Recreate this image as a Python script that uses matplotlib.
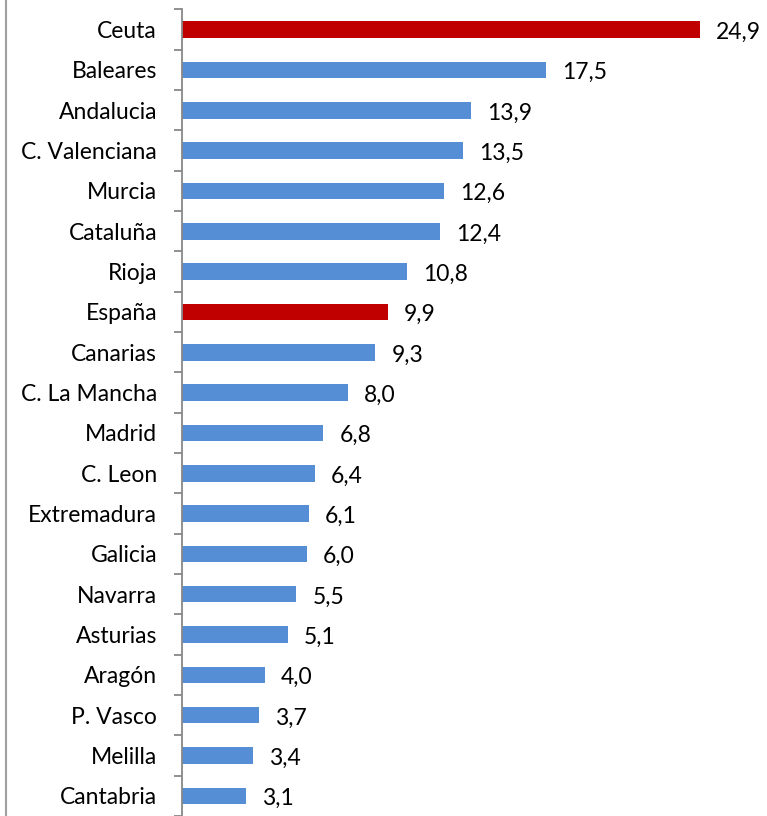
import matplotlib
matplotlib.use('Agg')
import matplotlib.pyplot as plt
from matplotlib.lines import Line2D

# Data
regiones = ['Ceuta', 'Baleares', 'Andalucia', 'C. Valenciana', 'Murcia', 'Cataluña',
            'Rioja', 'España', 'Canarias', 'C. La Mancha', 'Madrid', 'C. Leon',
            'Extremadura', 'Galicia', 'Navarra', 'Asturias', 'Aragón', 'P. Vasco',
            'Melilla', 'Cantabria']
valores = [24.9, 17.5, 13.9, 13.5, 12.6, 12.4, 10.8, 9.9, 9.3, 8.0, 6.8, 6.4,
           6.1, 6.0, 5.5, 5.1, 4.0, 3.7, 3.4, 3.1]
destacados = ['Ceuta', 'España']

azul = '#558ED5'
rojo = '#C00000'

plt.rcParams['font.family'] = ['Lato', 'DejaVu Sans']

W, H = 767, 816
fig = plt.figure(figsize=(W / 100, H / 100), dpi=100)
ax = fig.add_axes([182 / W, 0, 1 - 182 / W, 1 - 9.5 / H])

colores = [rojo if r in destacados else azul for r in regiones]
pos = list(range(len(regiones)))
ax.barh(pos, valores, height=0.41, color=colores)

ax.set_xlim(0, (W - 182) / 20.8)
ax.set_ylim(-0.5 + (H - 9.5) / 40.4, -0.5)

# category labels between ticks, ticks at category boundaries
ax.set_yticks(pos)
ax.set_yticklabels(regiones, fontsize=16.5)
ax.set_yticks([p - 0.5 for p in pos] + [len(pos) - 0.5], minor=True)
ax.tick_params(axis='y', which='major', length=0, pad=18)
ax.tick_params(axis='y', which='minor', length=6, width=1.3, color='#888888')
ax.set_xticks([])

for s in ['top', 'right', 'bottom']:
    ax.spines[s].set_visible(False)
ax.spines['left'].set_color('#888888')
ax.spines['left'].set_linewidth(1.3)

for p, v in zip(pos, valores):
    ax.annotate(f'{v:.1f}'.replace('.', ','), (v, p), xytext=(11.5, -2),
                textcoords='offset points', ha='left', va='center', fontsize=16.5)

# outer border line at the left edge
fig.add_artist(Line2D([5.5 / W, 5.5 / W], [0, 1], color='#a0a0a0', linewidth=1.5))

fig.savefig('out.png', dpi=100)
